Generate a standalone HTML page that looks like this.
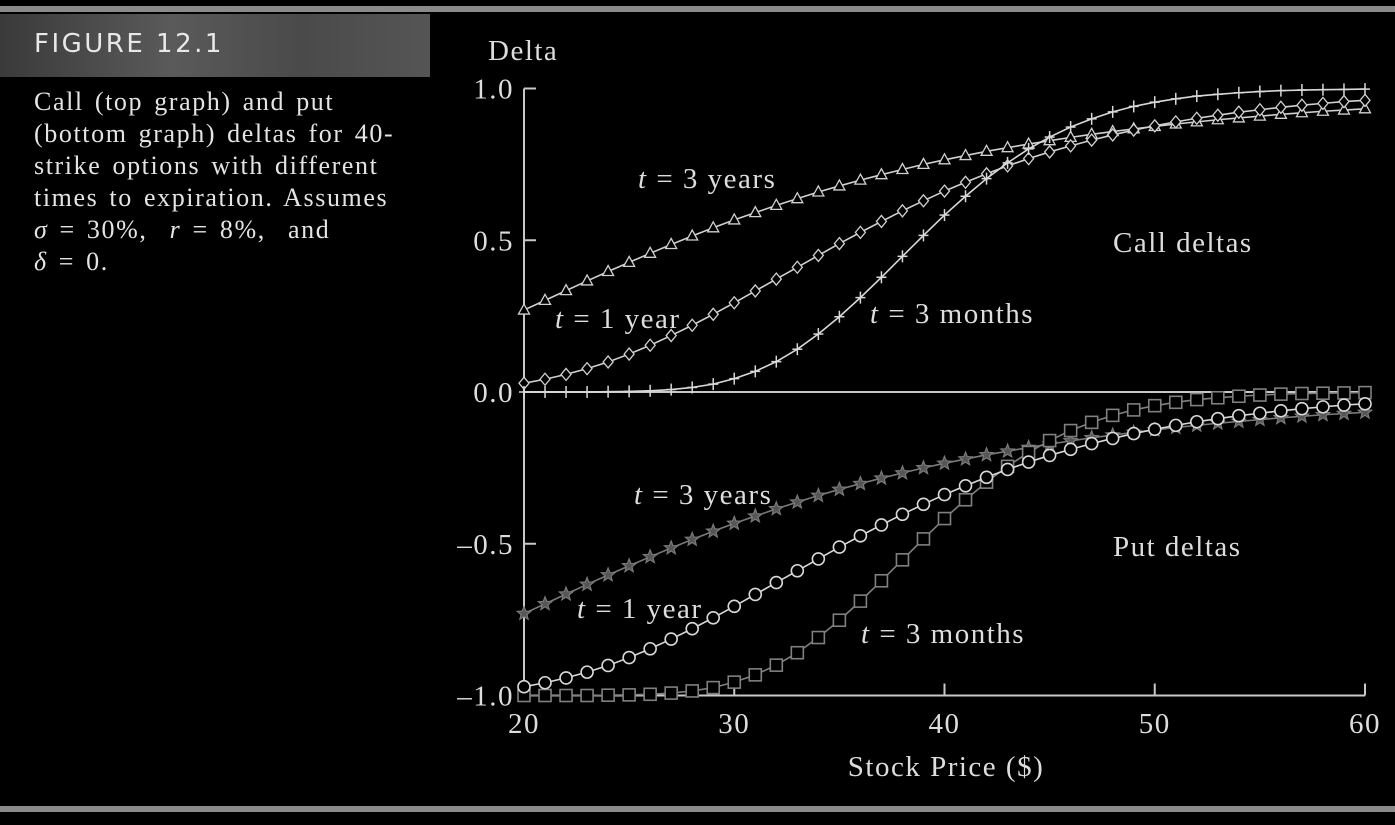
<!DOCTYPE html>
<html><head><meta charset="utf-8"><style>
body{margin:0;background:#000;width:1395px;height:825px;overflow:hidden;position:relative;font-family:"Liberation Serif",serif;color:#ddd}
.bar{position:absolute;left:0;width:1395px;height:6px;background:#8a8a8a}
#hdr{position:absolute;left:0;top:14px;width:430px;height:63px;background:linear-gradient(90deg,#3a3a3a,#5a5a5a 40%,#4a4a4a 70%,#555);}
#hdr span{position:absolute;left:34px;top:15px;font-family:"DejaVu Sans","Liberation Sans",sans-serif;font-size:26px;color:#e8e8e8;letter-spacing:2.5px}
#cap{position:absolute;left:34px;top:86px;font-size:26px;line-height:32px;color:#e4e4e4;width:380px;letter-spacing:1.6px;word-spacing:3px;white-space:nowrap}
svg{position:absolute;left:0;top:0}
svg text{letter-spacing:1.5px}
</style></head><body>
<div class="bar" style="top:6px"></div>
<div class="bar" style="top:806px"></div>
<div id="hdr"><span>FIGURE 12.1</span></div>
<div id="cap">Call (top graph) and put<br>(bottom graph) deltas for 40-<br>strike options with different<br>times to expiration. Assumes<br><i>σ</i> = 30%, &nbsp;<i>r</i> = 8%, &nbsp;and<br><i>δ</i> = 0.</div>
<svg id="chart" width="1395" height="825"></svg>
<script>
const prices=[20,21,22,23,24,25,26,27,28,29,30,31,32,33,34,35,36,37,38,39,40,41,42,43,44,45,46,47,48,49,50,51,52,53,54,55,56,57,58,59,60];
const call3y=[0.270,0.302,0.334,0.366,0.397,0.427,0.457,0.486,0.514,0.541,0.567,0.591,0.615,0.637,0.659,0.679,0.698,0.716,0.733,0.750,0.765,0.779,0.793,0.805,0.817,0.828,0.839,0.849,0.858,0.867,0.875,0.883,0.890,0.897,0.903,0.909,0.915,0.920,0.925,0.929,0.933];
const call1y=[0.029,0.042,0.058,0.077,0.099,0.125,0.154,0.186,0.220,0.256,0.294,0.333,0.372,0.411,0.450,0.489,0.526,0.562,0.597,0.630,0.662,0.691,0.719,0.745,0.769,0.791,0.811,0.830,0.847,0.863,0.877,0.890,0.902,0.912,0.922,0.930,0.938,0.945,0.951,0.957,0.961];
const call3m=[0.000,0.000,0.000,0.000,0.001,0.002,0.004,0.008,0.015,0.026,0.044,0.068,0.100,0.141,0.191,0.248,0.311,0.378,0.447,0.516,0.583,0.645,0.703,0.755,0.801,0.840,0.873,0.900,0.923,0.941,0.955,0.966,0.975,0.981,0.986,0.990,0.993,0.995,0.996,0.997,0.998];
const put3y=[-0.730,-0.698,-0.666,-0.634,-0.603,-0.573,-0.543,-0.514,-0.486,-0.459,-0.433,-0.409,-0.385,-0.363,-0.341,-0.321,-0.302,-0.284,-0.267,-0.250,-0.235,-0.221,-0.207,-0.195,-0.183,-0.172,-0.161,-0.151,-0.142,-0.133,-0.125,-0.117,-0.110,-0.103,-0.097,-0.091,-0.085,-0.080,-0.075,-0.071,-0.067];
const put1y=[-0.971,-0.958,-0.942,-0.923,-0.901,-0.875,-0.846,-0.814,-0.780,-0.744,-0.706,-0.667,-0.628,-0.589,-0.550,-0.511,-0.474,-0.438,-0.403,-0.370,-0.338,-0.309,-0.281,-0.255,-0.231,-0.209,-0.189,-0.170,-0.153,-0.137,-0.123,-0.110,-0.098,-0.088,-0.078,-0.070,-0.062,-0.055,-0.049,-0.043,-0.039];
const put3m=[-1.000,-1.000,-1.000,-1.000,-0.999,-0.998,-0.996,-0.992,-0.985,-0.974,-0.956,-0.932,-0.900,-0.859,-0.809,-0.752,-0.689,-0.622,-0.553,-0.484,-0.417,-0.355,-0.297,-0.245,-0.199,-0.160,-0.127,-0.100,-0.077,-0.059,-0.045,-0.034,-0.025,-0.019,-0.014,-0.010,-0.007,-0.005,-0.004,-0.003,-0.002];
const xTicks=[20,30,40,50,60];
const yTicks=[1.0,0.5,0.0,-0.5,-1.0];
const yTickLabels=["1.0","0.5","0.0","–0.5","–1.0"];

const X=v=>524+(v-20)*(1365-524)/40;
const Y=v=>392-v*303.5;
const svg=document.getElementById('chart');
const NS='http://www.w3.org/2000/svg';
function mk(tag,attrs,parent){const e=document.createElementNS(NS,tag);for(const k in attrs)e.setAttribute(k,attrs[k]);(parent||svg).appendChild(e);return e;}
const AX='#c8c8c8';
let a=mk('line',{x1:524,y1:Y(1),x2:524,y2:Y(-1),stroke:AX,'stroke-width':2});


a=mk('line',{x1:524,y1:Y(-1),x2:1365,y2:Y(-1),stroke:AX,'stroke-width':2});


a=mk('line',{x1:524,y1:Y(0),x2:1365,y2:Y(0),stroke:AX,'stroke-width':2});


xTicks.forEach(t=>{
  const l=mk('line',{x1:X(t),y1:Y(-1),x2:X(t),y2:Y(-1)-12,stroke:AX,'stroke-width':2});
  
  
  const tx=mk('text',{x:X(t),y:733,'text-anchor':'middle','font-size':29,fill:'#ddd','font-family':'Liberation Serif,serif'});
  tx.textContent=t;
  
  
});
yTicks.forEach((t,i)=>{
  const l=mk('line',{x1:524,y1:Y(t),x2:536,y2:Y(t),stroke:AX,'stroke-width':2});
  
  
  const tx=mk('text',{x:514,y:Y(t)+10,'text-anchor':'end','font-size':29,fill:'#ddd','font-family':'Liberation Serif,serif'});
  tx.textContent=yTickLabels[i];
  
  
});
function label(txt,x,y,name,anchor){const t=mk('text',{x:x,y:y,'font-size':29,fill:'#ddd','font-family':'Liberation Serif,serif','text-anchor':anchor||'start'});t.innerHTML=txt;return t;}
label('Delta',488,60,'y-axis-title');
label('Stock Price ($)',946,776,'x-axis-title','middle');
label('<tspan font-style="italic">t</tspan> = 3 years',638,188,'label-call-3y');
label('<tspan font-style="italic">t</tspan> = 1 year',555,328,'label-call-1y');
label('<tspan font-style="italic">t</tspan> = 3 months',870,323,'label-call-3m');
label('Call deltas',1113,252,'label-call-deltas');
label('<tspan font-style="italic">t</tspan> = 3 years',634,504,'label-put-3y');
label('<tspan font-style="italic">t</tspan> = 1 year',577,618,'label-put-1y');
label('<tspan font-style="italic">t</tspan> = 3 months',861,643,'label-put-3m');
label('Put deltas',1113,556,'label-put-deltas');

function marker(g,type,cx,cy,col){
  if(type==='tri') mk('polygon',{points:`${cx},${cy-6} ${cx-5.5},${cy+4} ${cx+5.5},${cy+4}`,fill:'#000',stroke:col,'stroke-width':1.3},g);
  else if(type==='dia') mk('polygon',{points:`${cx},${cy-6} ${cx+5},${cy} ${cx},${cy+6} ${cx-5},${cy}`,fill:'#000',stroke:col,'stroke-width':1.3},g);
  else if(type==='plus'){mk('line',{x1:cx-5,y1:cy,x2:cx+5,y2:cy,stroke:col,'stroke-width':1.5},g);mk('line',{x1:cx,y1:cy-6,x2:cx,y2:cy+6,stroke:col,'stroke-width':1.5},g);}
  else if(type==='circ') mk('circle',{cx:cx,cy:cy,r:6,fill:'#000',stroke:col,'stroke-width':1.6},g);
  else if(type==='sq') mk('rect',{x:cx-6,y:cy-6,width:12,height:12,fill:'#000',stroke:col,'stroke-width':1.6},g);
  else if(type==='star'){let p=[];for(let k=0;k<10;k++){const r=k%2?3:7,an=-Math.PI/2+k*Math.PI/5;p.push((cx+r*Math.cos(an)).toFixed(1)+','+(cy+r*Math.sin(an)).toFixed(1));}mk('polygon',{points:p.join(' '),fill:'#555',stroke:col,'stroke-width':1.2},g);}
}
function series(vals,type,col,name){
  const g=mk('g',{});
  
  
  mk('polyline',{points:prices.map((p,i)=>X(p)+','+Y(vals[i])).join(' '),fill:'none',stroke:col,'stroke-width':1.6},g);
  prices.forEach((p,i)=>marker(g,type,X(p),Y(vals[i]),col));
}
series(put3y,'star','#7a7a7a','series-put-3y');
series(put3m,'sq','#808080','series-put-3m');
series(put1y,'circ','#d8d8d8','series-put-1y');
series(call3y,'tri','#d0d0d0','series-call-3y');
series(call1y,'dia','#d0d0d0','series-call-1y');
series(call3m,'plus','#d8d8d8','series-call-3m');
</script>
</body></html>
